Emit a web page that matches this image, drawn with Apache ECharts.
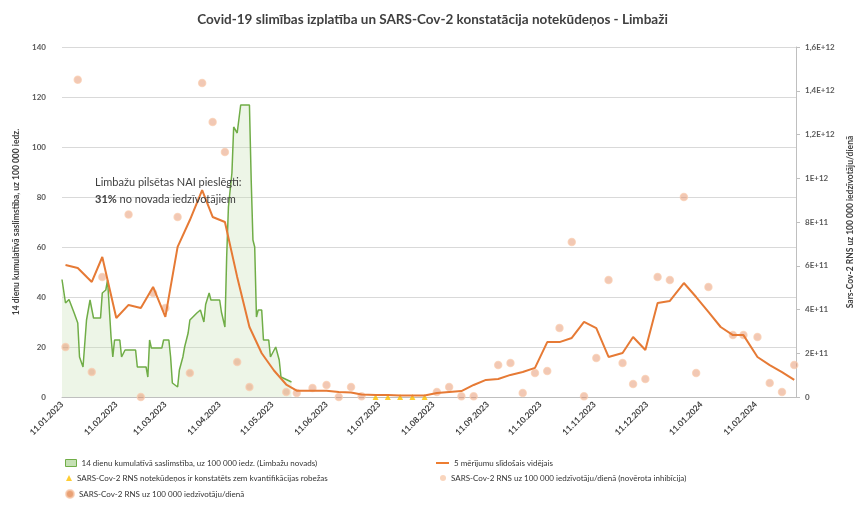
<!DOCTYPE html>
<html>
<head>
<meta charset="utf-8">
<script src="https://cdn.jsdelivr.net/npm/echarts@6/dist/echarts.min.js"></script>
<style>
  html, body { margin: 0; padding: 0; background: #ffffff; }
  #chart { width: 865px; height: 508px; }
</style>
</head>
<body>
<div id="chart"></div>
<script>
// 14-day cumulative incidence per 100 000 inhabitants (Limbaži municipality)
const incidenceDates = [
  '2023-01-11','2023-01-13','2023-01-15','2023-01-18','2023-01-20','2023-01-21','2023-01-23','2023-01-24',
  '2023-01-25','2023-01-27','2023-01-29','2023-02-02','2023-02-03','2023-02-05','2023-02-06','2023-02-08',
  '2023-02-09','2023-02-10','2023-02-13','2023-02-14','2023-02-16','2023-02-22','2023-02-23','2023-02-28',
  '2023-03-01','2023-03-02','2023-03-03','2023-03-09','2023-03-10','2023-03-13','2023-03-14','2023-03-15',
  '2023-03-18','2023-03-19','2023-03-21','2023-03-22','2023-03-24','2023-03-25','2023-03-29','2023-03-31',
  '2023-04-02','2023-04-03','2023-04-05','2023-04-06','2023-04-11','2023-04-12','2023-04-14','2023-04-15',
  '2023-04-16','2023-04-18','2023-04-19','2023-04-21','2023-04-23','2023-04-28','2023-04-29','2023-04-30',
  '2023-05-01','2023-05-02','2023-05-03','2023-05-05','2023-05-06','2023-05-09','2023-05-10','2023-05-13',
  '2023-05-15','2023-05-16','2023-05-19','2023-05-22'
];
const incidenceValues = [
  47, 37.6, 39, 33.5, 29.6, 16, 12, 11.7,
  30.8, 38.8, 31.6, 31.6, 41.6, 42.8, 46.8, 24,
  16, 22.8, 22.8, 16, 18.8, 18.8, 12, 12,
  8, 22.8, 19.6, 19.6, 22.8, 22.8, 16, 5.6,
  4, 10.8, 16, 20, 25.6, 30.8, 33.6, 34.8,
  30, 37, 41.6, 38.8, 38.8, 34, 28, 56,
  76, 89.6, 108, 105.6, 116.8, 116.8, 86.8, 62.8,
  60, 32, 34.8, 34.8, 22.8, 22.8, 16, 20,
  14.8, 8, 7, 6
];

// Wastewater sampling dates
const sampleDates = [
  '2023-01-13','2023-01-20','2023-01-28','2023-02-03','2023-02-11','2023-02-18','2023-02-25','2023-03-04',
  '2023-03-11','2023-03-18','2023-03-25','2023-04-01','2023-04-07','2023-04-14','2023-04-21','2023-04-28',
  '2023-05-05','2023-05-12','2023-05-19','2023-05-25','2023-06-03','2023-06-11','2023-06-18','2023-06-25',
  '2023-07-01','2023-07-09','2023-07-16','2023-07-23','2023-07-30','2023-08-06','2023-08-13','2023-08-20',
  '2023-08-27','2023-09-03','2023-09-10','2023-09-17','2023-09-24','2023-10-01','2023-10-08','2023-10-15',
  '2023-10-22','2023-10-29','2023-11-05','2023-11-12','2023-11-19','2023-11-27','2023-12-03','2023-12-10',
  '2023-12-17','2023-12-24','2024-01-01','2024-01-08','2024-01-15','2024-01-22','2024-01-29','2024-02-04',
  '2024-02-12','2024-02-19','2024-02-26','2024-03-04'
];

// 5-sample moving average, RNA copies per 100 000 inhabitants per day
const movingAverage = [
  6.03e11, 5.90e11, 5.26e11, 6.40e11, 3.61e11, 4.21e11, 4.07e11, 5.03e11,
  3.66e11, 6.86e11, 8.09e11, 9.46e11, 8.23e11, 8.00e11, 5.49e11, 3.20e11,
  2.00e11, 1.21e11, 0.57e11, 0.29e11, 0.29e11, 0.29e11, 0.23e11, 0.21e11,
  0.11e11, 0.09e11, 0.09e11, 0.07e11, 0.07e11, 0.07e11, 0.18e11, 0.23e11,
  0.27e11, 0.55e11, 0.78e11, 0.82e11, 1.01e11, 1.14e11, 1.33e11, 2.51e11,
  2.51e11, 2.70e11, 3.43e11, 3.15e11, 1.83e11, 2.01e11, 2.74e11, 2.15e11,
  4.30e11, 4.39e11, 5.21e11, 4.57e11, 3.89e11, 3.20e11, 2.83e11, 2.83e11,
  1.83e11, 1.46e11, 1.14e11, 0.78e11
];

// Measured RNA copies per 100 000 inhabitants per day (null: no quantified value)
const rnsValues = [
  2.29e11, 14.5e11, 1.14e11, 5.49e11, null, 8.34e11, 0, 4.75e11,
  4.07e11, 8.23e11, 1.10e11, 14.35e11, 12.57e11, 11.2e11, 1.60e11, 0.46e11,
  null, null, 0.23e11, 0.18e11, 0.41e11, 0.55e11, 0, 0.46e11,
  0.03e11, null, null, null, null, null, 0.23e11, 0.46e11,
  0.03e11, 0.03e11, null, 1.46e11, 1.55e11, 0.18e11, 1.10e11, 1.19e11,
  3.15e11, 7.09e11, 0.03e11, 1.78e11, 5.35e11, 1.55e11, 0.59e11, 0.82e11,
  5.49e11, 5.35e11, 9.14e11, 1.10e11, 5.03e11, null, 2.83e11, 2.83e11,
  2.74e11, 0.64e11, 0.23e11, 1.46e11
];

// Samples with inhibition observed
const inhibitedDates = [];
const inhibitedValues = [];

// Samples below the limit of quantification
const belowLoqDates = ['2023-07-09','2023-07-16','2023-07-23','2023-07-30','2023-08-06'];
const belowLoqValues = [0, 0, 0, 0, 0];

// Month tick labels on the date axis
const xTickDates = [
  '2023-01-11','2023-02-11','2023-03-11','2023-04-11','2023-05-11','2023-06-11','2023-07-11',
  '2023-08-11','2023-09-11','2023-10-11','2023-11-11','2023-12-11','2024-01-11','2024-02-11'
];

const NAME_INC = '14 dienu kumulatīvā saslimstība, uz 100 000 iedz. (Limbažu novads)';
const NAME_MA = '5 mērījumu slīdošais vidējais';
const NAME_LOQ = 'SARS-Cov-2 RNS notekūdeņos ir konstatēts zem kvantifikācijas robežas';
const NAME_INH = 'SARS-Cov-2 RNS uz 100 000 iedzīvotāju/dienā (novērota inhibīcija)';
const NAME_RNS = 'SARS-Cov-2 RNS uz 100 000 iedzīvotāju/dienā';

function ts(s) {
  const p = s.split('-').map(Number);
  return new Date(p[0], p[1] - 1, p[2]).getTime();
}
function pad(n) { return (n < 10 ? '0' : '') + n; }
function sci(v) {
  if (v === 0) return '0';
  const e = Math.floor(Math.log10(v) + 1e-9);
  const m = Math.round(v / Math.pow(10, e) * 10) / 10;
  return String(m).replace('.', ',') + 'E+' + e;
}
function pairs(dates, values) {
  const out = [];
  dates.forEach((d, i) => { if (values[i] !== null && values[i] !== undefined) out.push([ts(d), values[i]]); });
  return out;
}

const FONT = 'Lato, "Liberation Sans", sans-serif';
const legendText = { fontFamily: FONT, fontSize: 8, color: '#333333' };

const chart = echarts.init(document.getElementById('chart'), null, { renderer: 'canvas' });
chart.setOption({
  animation: false,
  backgroundColor: '#ffffff',
  title: {
    text: 'Covid-19 slimības izplatība un SARS-Cov-2 konstatācija notekūdeņos - Limbaži',
    left: 'center', top: 8,
    textStyle: { fontFamily: FONT, fontSize: 13.5, fontWeight: 'bold', color: '#404040' }
  },
  grid: { left: 62, right: 69, top: 47, bottom: 111 },
  legend: [
    { left: 60, top: 454, selectedMode: false, itemWidth: 11, itemHeight: 7, textStyle: legendText,
      data: [{ name: NAME_INC, icon: 'rect', itemStyle: { color: '#C5E0B4', borderColor: '#70AD47', borderWidth: 1 } }] },
    { left: 431, top: 454, selectedMode: false, itemWidth: 13, itemHeight: 2, textStyle: legendText,
      data: [{ name: NAME_MA, icon: 'rect', itemStyle: { color: '#ED7D31' } }] },
    { left: 61, top: 469, selectedMode: false, itemWidth: 6, itemHeight: 6, textStyle: legendText,
      data: [{ name: NAME_LOQ, icon: 'triangle', itemStyle: { color: '#FFC000' } }] },
    { left: 435, top: 469, selectedMode: false, itemWidth: 6, itemHeight: 6, textStyle: legendText,
      data: [{ name: NAME_INH, icon: 'circle', itemStyle: { color: '#F8CBAD' } }] },
    { left: 60, top: 484, selectedMode: false, itemWidth: 8, itemHeight: 8, textStyle: legendText,
      data: [{ name: NAME_RNS, icon: 'circle', itemStyle: { color: '#E38A52' } }] }
  ],
  xAxis: {
    type: 'value',
    min: ts('2023-01-11'),
    max: ts('2024-03-05'),
    axisLine: { show: true, lineStyle: { color: '#BFBFBF' } },
    axisTick: { show: false },
    splitLine: { show: false },
    axisLabel: {
      customValues: xTickDates.map(ts),
      rotate: 45,
      margin: 6,
      hideOverlap: false,
      fontFamily: FONT, fontSize: 8.5, fontWeight: 'bold', color: '#404040',
      formatter: function (v) {
        const d = new Date(v);
        return pad(d.getDate()) + '.' + pad(d.getMonth() + 1) + '.' + d.getFullYear();
      }
    }
  },
  yAxis: [
    {
      type: 'value', min: 0, max: 140, interval: 20,
      name: '14 dienu kumulatīvā saslimstība, uz 100 000 iedz.',
      nameLocation: 'middle', nameGap: 38, nameRotate: 90,
      nameTextStyle: { fontFamily: FONT, fontSize: 8.5, fontWeight: 'bold', color: '#404040' },
      axisLine: { show: false }, axisTick: { show: false },
      splitLine: { lineStyle: { color: '#D9D9D9' } },
      axisLabel: { margin: 16, fontFamily: FONT, fontSize: 8, fontWeight: 'bold', color: '#595959' }
    },
    {
      type: 'value', min: 0, max: 1.6e12, interval: 2e11, position: 'right',
      name: 'Sars-Cov-2 RNS uz 100 000 iedzīvotāju/dienā',
      nameLocation: 'middle', nameGap: 50, nameRotate: 90,
      nameTextStyle: { fontFamily: FONT, fontSize: 8.5, fontWeight: 'bold', color: '#404040' },
      axisLine: { show: true, lineStyle: { color: '#BFBFBF' } },
      axisTick: { show: true, length: 4, lineStyle: { color: '#BFBFBF' } },
      splitLine: { show: false },
      axisLabel: { margin: 9, fontFamily: FONT, fontSize: 8, fontWeight: 'bold', color: '#595959', formatter: sci }
    }
  ],
  graphic: [{
    type: 'text', left: 95, top: 174, z: 100,
    style: {
      text: 'Limbažu pilsētas NAI pieslēgti:\n{b|31%} no novada iedzīvotājiem',
      fontFamily: FONT, fontSize: 11, fill: '#404040', lineHeight: 17,
      rich: { b: { fontFamily: FONT, fontSize: 11, fontWeight: 'bold', fill: '#404040' } }
    }
  }],
  series: [
    {
      name: NAME_INC, type: 'line', yAxisIndex: 0, z: 2,
      data: pairs(incidenceDates, incidenceValues),
      showSymbol: false,
      lineStyle: { color: '#70AD47', width: 1.5 },
      itemStyle: { color: '#70AD47' },
      areaStyle: { color: 'rgba(197,224,180,0.45)' }
    },
    {
      name: NAME_RNS, type: 'scatter', yAxisIndex: 1, z: 3,
      data: pairs(sampleDates, rnsValues),
      symbolSize: 7,
      itemStyle: { color: 'rgba(226,140,100,0.6)', borderColor: 'rgba(248,203,173,0.9)', borderWidth: 1.5 }
    },
    {
      name: NAME_INH, type: 'scatter', yAxisIndex: 1, z: 3,
      data: pairs(inhibitedDates, inhibitedValues),
      symbolSize: 6,
      itemStyle: { color: '#F8CBAD' }
    },
    {
      name: NAME_LOQ, type: 'scatter', yAxisIndex: 1, z: 3,
      data: pairs(belowLoqDates, belowLoqValues),
      symbol: 'triangle', symbolSize: 6,
      itemStyle: { color: '#FFC000' }
    },
    {
      name: NAME_MA, type: 'line', yAxisIndex: 1, z: 4,
      data: pairs(sampleDates, movingAverage),
      showSymbol: false,
      lineStyle: { color: '#E67A35', width: 2 },
      itemStyle: { color: '#E67A35' }
    }
  ]
});
</script>
</body>
</html>
